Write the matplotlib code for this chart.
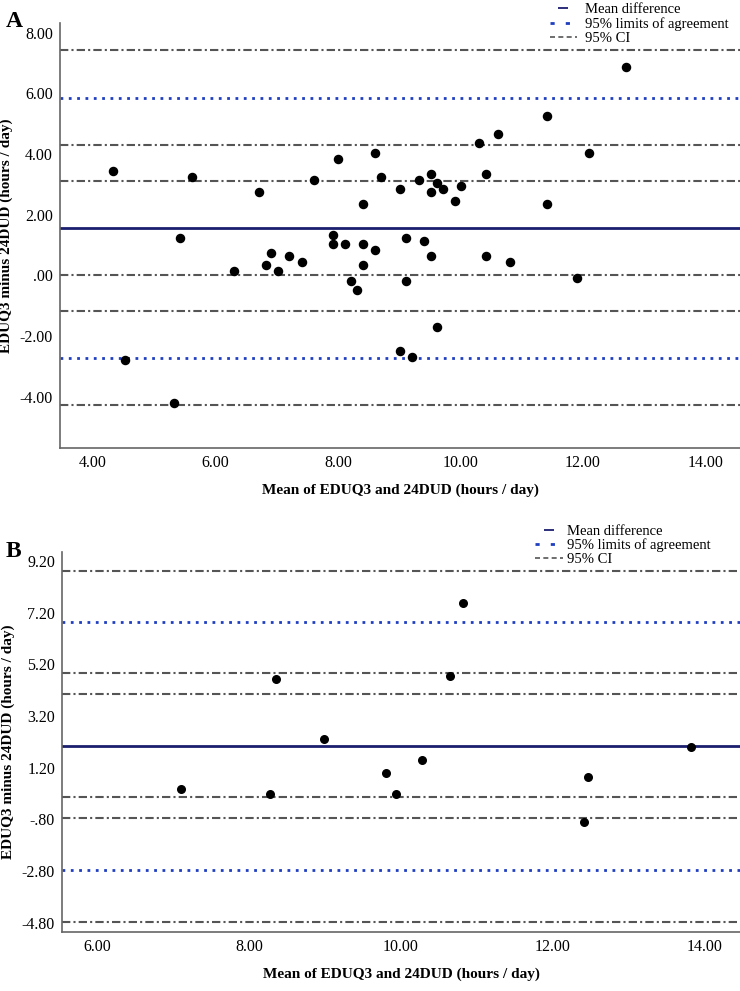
import matplotlib
matplotlib.use("Agg")
import matplotlib.pyplot as plt
from matplotlib.lines import Line2D
from matplotlib.ticker import FuncFormatter

plt.rcParams['font.family'] = ['Liberation Serif', 'DejaVu Serif']

# Panel A: mean of the two methods vs difference
a_mean = [4.32, 5.62, 5.42, 4.52, 5.32, 6.72, 6.31, 6.82, 6.91, 7.02, 7.21, 7.42,
          7.61, 8.01, 8.61, 8.71, 8.41, 7.92, 7.92, 8.11, 8.41, 8.61, 8.41, 8.22,
          8.31, 9.01, 9.32, 9.52, 9.62, 9.52, 9.71, 10.01, 9.92, 10.31, 10.61, 10.42,
          11.41, 12.11, 11.41, 9.11, 9.41, 9.52, 10.42, 10.81, 9.11, 11.91, 9.62,
          9.01, 9.21, 12.71]
a_diff = [3.45, 3.25, 1.24, -2.80, -4.20, 2.74, 0.13, 0.33, 0.73, 0.13, 0.64, 0.43,
          3.15, 3.85, 4.05, 3.25, 2.34, 1.34, 1.03, 1.03, 1.03, 0.83, 0.33, -0.17,
          -0.47, 2.85, 3.15, 3.36, 3.05, 2.74, 2.85, 2.94, 2.44, 4.35, 4.65, 3.36,
          5.26, 4.05, 2.34, 1.24, 1.14, 0.64, 0.64, 0.43, -0.17, -0.08, -1.69,
          -2.49, -2.69, 6.88]
a_bias = 1.56
a_loa = [-2.74, 5.86]
a_ci = [0.02, 3.10, -4.29, -1.18, 4.30, 7.42]

# Panel B
b_mean = [8.35, 8.99, 7.11, 8.28, 9.80, 9.93, 10.81, 10.65, 10.27, 12.46, 12.41, 13.81]
b_diff = [4.62, 2.32, 0.38, 0.17, 0.99, 0.17, 7.58, 4.75, 1.49, 0.83, -0.91, 2.00]
b_bias = 2.04
b_loa = [-2.77, 6.85]
b_ci = [0.05, 4.04, -4.78, -0.76, 4.86, 8.83]

a_yticks = [-4, -2, 0, 2, 4, 6, 8]
a_xticks = [4, 6, 8, 10, 12, 14]
b_yticks = [-4.8, -2.8, -0.8, 1.2, 3.2, 5.2, 7.2, 9.2]
b_xticks = [6, 8, 10, 12, 14]

NAVY = '#1b1f6e'
BLUE = '#1f3fbf'
GREY = '#555555'


def spss_fmt(v, pos=None):
    s = '%.2f' % v
    if s.startswith('0.'):
        s = s[1:]
    elif s.startswith('-0.'):
        s = '-' + s[2:]
    if s == '-.00':
        s = '.00'
    return s


def draw_panel(ax, x, y, bias, loa, ci, xlim, ylim, xticks, yticks, ms):
    for c in ci:
        ax.axhline(c, color=GREY, lw=1.5, ls=(0, (4, 1.5, 1, 1.5)), zorder=1)
    for l in loa:
        ax.axhline(l, color=BLUE, lw=2.0, ls=(0, (1, 2)), zorder=1)
    ax.axhline(bias, color=NAVY, lw=2.0, zorder=1)
    ax.scatter(x, y, s=ms, color='black', zorder=3)
    ax.set_xlim(*xlim)
    ax.set_ylim(*ylim)
    ax.set_xticks(xticks)
    ax.set_yticks(yticks)
    ax.xaxis.set_major_formatter(FuncFormatter(spss_fmt))
    ax.yaxis.set_major_formatter(FuncFormatter(spss_fmt))
    ax.tick_params(length=0, labelsize=11.5, pad=5)
    for side in ['top', 'right']:
        ax.spines[side].set_visible(False)
    for side in ['left', 'bottom']:
        ax.spines[side].set_color('#666666')
        ax.spines[side].set_linewidth(1.2)
    ax.set_xlabel('Mean of EDUQ3 and 24DUD (hours / day)', fontsize=11,
                  fontweight='bold', labelpad=9)
    ax.set_ylabel('EDUQ3 minus 24DUD (hours / day)', fontsize=11,
                  fontweight='bold', labelpad=5)
    handles = [
        Line2D([], [], color=NAVY, lw=0, marker='_', markersize=7, markeredgewidth=1.3),
        Line2D([], [], color=BLUE, lw=2, ls=(0, (1.5, 4))),
        Line2D([], [], color=GREY, lw=1.2, ls=(0, (3, 2))),
    ]
    labels = ['Mean difference', '95% limits of agreement', '95% CI']
    return handles, labels


fig = plt.figure(figsize=(7.4, 9.91), dpi=100)

ax1 = fig.add_axes([0.081, 0.548, 0.919, 0.429])
h, l = draw_panel(ax1, a_mean, a_diff, a_bias, a_loa, a_ci, (3.46, 14.57),
                  (-5.69, 8.33), a_xticks, a_yticks, 34)
fig.legend(h, l, loc='upper left', bbox_to_anchor=(0.725, 1.01), frameon=False,
           fontsize=10.5, handlelength=1.9, handletextpad=0.5, labelspacing=0.05)
fig.text(0.008, 0.978, 'A', fontsize=17, fontweight='bold', va='center')

ax2 = fig.add_axes([0.0838, 0.0599, 0.9162, 0.3834])
h, l = draw_panel(ax2, b_mean, b_diff, b_bias, b_loa, b_ci, (5.54, 14.46),
                  (-5.15, 9.56), b_xticks, b_yticks, 30)
fig.legend(h, l, loc='upper left', bbox_to_anchor=(0.705, 0.484), frameon=False,
           fontsize=10.5, handlelength=1.9, handletextpad=0.3, labelspacing=0.05)
fig.text(0.008, 0.443, 'B', fontsize=17, fontweight='bold', va='center')

fig.savefig('out.png', dpi=100)
